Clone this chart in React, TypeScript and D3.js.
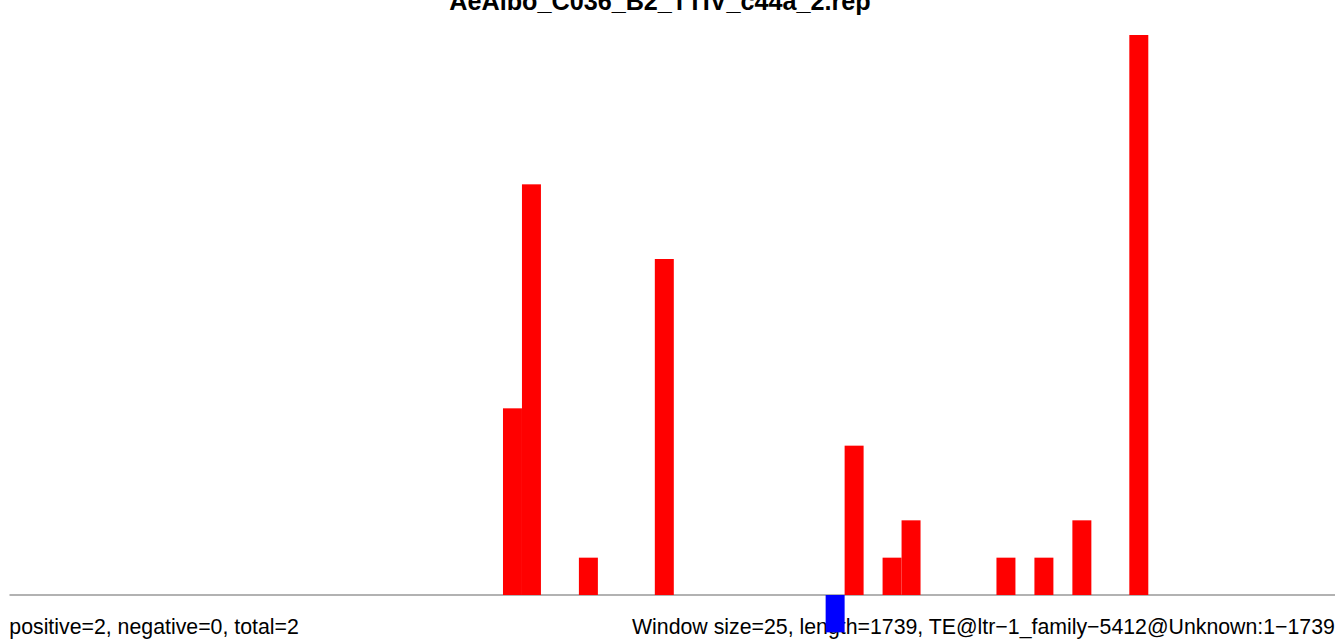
import React from "react";
import * as d3 from "d3";

const titleText = "AeAlbo_C036_B2_TTIV_c44a_2.rep";
const leftNote = "positive=2, negative=0, total=2";
const rightNote = "Window size=25, length=1739, TE@ltr\u22121_family\u22125412@Unknown:1\u22121739";

const windowCount = 70;
const posWindows = [26, 27, 30, 34, 44, 46, 47, 52, 54, 56, 59];
const posCounts = [5, 11, 1, 9, 4, 1, 2, 1, 1, 2, 15];
const negWindows = [43];
const negCounts = [1];

const W = 1335;
const H = 639;

export default function App() {
  const x = d3.scaleLinear().domain([0, windowCount]).range([9.5, 9.5 + windowCount * 18.98]);
  const y = d3.scaleLinear().domain([0, 15]).range([595, 35]);
  const bw = x(1) - x(0);
  return (
    <svg width={W} height={H} style={{ position: "absolute", left: 0, top: 0, background: "#fff" }}
      fontFamily="'Liberation Sans', Arial, sans-serif">
      <text x={660} y={9.5} textAnchor="middle" fontWeight="bold" fontSize={25.2} fill="#000">{titleText}</text>
      <line x1={x(0)} x2={W} y1={595} y2={595} stroke="#999" strokeWidth={1.3} />
      <text x={9.3} y={634} fontSize={21.3} fill="#000">{leftNote}</text>
      <text x={632} y={634} fontSize={21.3} fill="#000">{rightNote}</text>
      {posWindows.map((w, i) => (
        <rect key={"p" + i} x={x(w)} y={y(posCounts[i])} width={bw} height={y(0) - y(posCounts[i])} fill="#ff0000" />
      ))}
      {negWindows.map((w, i) => (
        <rect key={"n" + i} x={x(w)} y={y(0)} width={bw} height={y(-negCounts[i]) - y(0)} fill="#0000ff" />
      ))}
    </svg>
  );
}
